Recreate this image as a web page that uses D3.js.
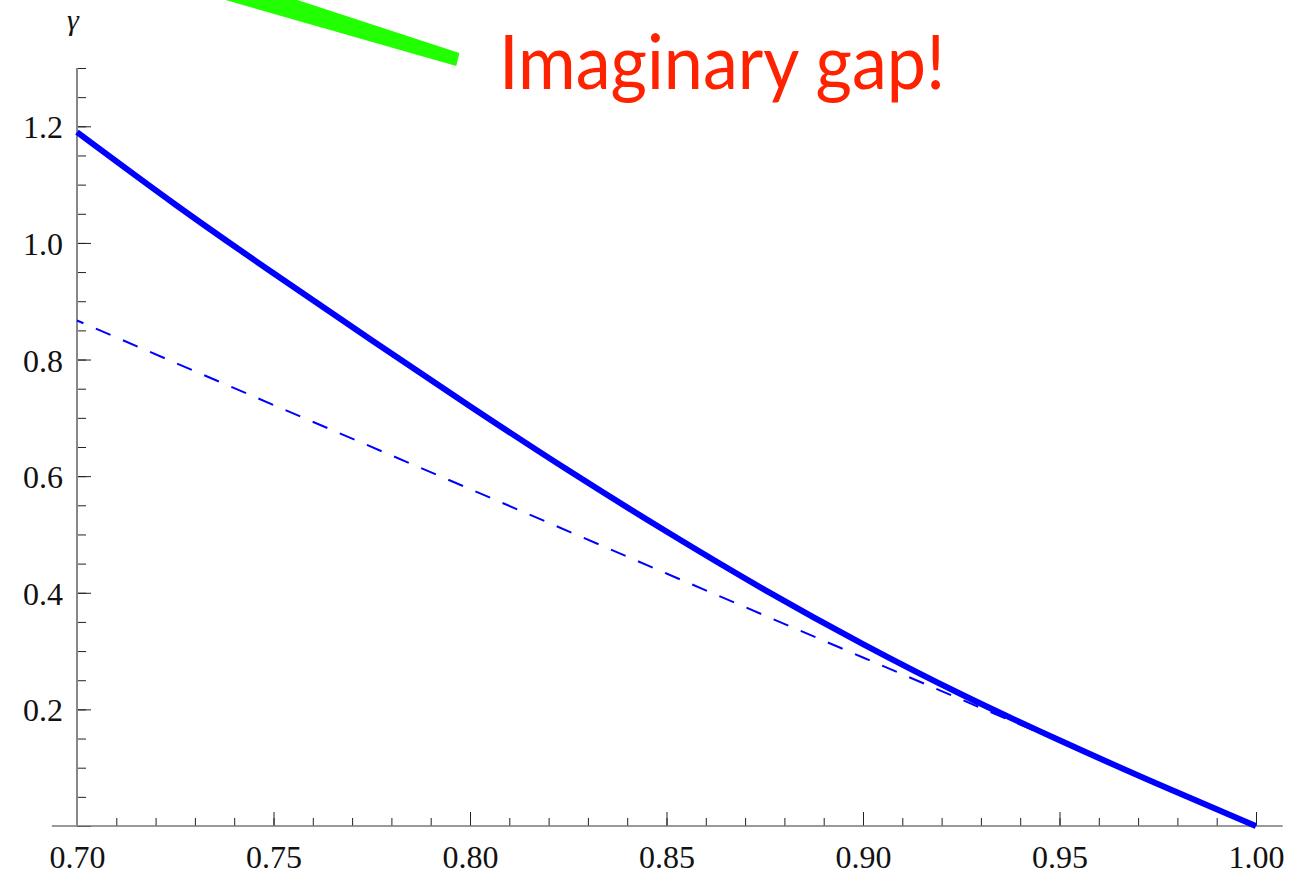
<!DOCTYPE html>
<html>
<head>
<meta charset="utf-8">
<script src="https://cdn.jsdelivr.net/npm/d3@7"></script>
<style>
  html, body { margin: 0; padding: 0; background: #fff; }
  svg { display: block; }
  .serif { font-family: "Liberation Serif", "Times New Roman", Times, serif; }
</style>
</head>
<body>
<svg id="chart"></svg>
<script>
// values
const xValues     = [0.700, 0.725, 0.750, 0.775, 0.800, 0.825, 0.850, 0.875, 0.900, 0.925, 0.950, 0.975, 1.000]
const gammaSolid  = [1.190, 1.066, 0.948, 0.833, 0.720, 0.610, 0.505, 0.405, 0.312, 0.226, 0.147, 0.072, 0.000]
const dashX       = [0.70, 0.75, 0.80, 0.85, 0.90, 0.95, 1.00]
const gammaDashed = [0.867, 0.722, 0.578, 0.433, 0.289, 0.145, 0.000]

const xMajorTicks = [0.70, 0.75, 0.80, 0.85, 0.90, 0.95, 1.00]
const yMajorTicks = [0, 0.2, 0.4, 0.6, 0.8, 1.0, 1.2]

// green pointer band (annotation), given in data units
const pointerX = [0.7377, 0.7560, 0.7973, 0.7965]
const pointerY = [1.4168, 1.4168, 1.3259, 1.3036]
const noteText = "Imaginary gap!"

const width = 1291
const height = 874

const svg = d3.select('#chart')
  .attr('width', width)
  .attr('height', height)

const x = d3.scaleLinear().domain([0.70, 1.00]).range([77, 1256])
const y = d3.scaleLinear().domain([0, 1.3]).range([826, 68])

// minor ticks first
svg.append('g')
  .attr('transform', `translate(0,${y(0)})`)
  .call(d3.axisBottom(x).tickValues(d3.range(0.70, 1.0001, 0.01)).tickSizeInner(-8).tickSizeOuter(0).tickFormat(''))
  .call(g => g.select('.domain').remove())

svg.append('g')
  .attr('transform', `translate(${x(0.70)},0)`)
  .call(d3.axisLeft(y).tickValues(d3.range(0, 1.3001, 0.05)).tickSizeInner(-9).tickSizeOuter(0).tickFormat(''))
  .call(g => g.select('.domain').remove())

// major ticks with labels
const xAxis = svg.append('g')
  .attr('transform', `translate(0,${y(0)})`)
  .call(d3.axisBottom(x).tickValues(xMajorTicks).tickSizeInner(-14).tickSizeOuter(0)
    .tickPadding(19).tickFormat(d3.format('.2f')))
  .call(g => g.select('.domain').remove())

const yAxis = svg.append('g')
  .attr('transform', `translate(${x(0.70)},0)`)
  .call(d3.axisLeft(y).tickValues(yMajorTicks).tickSizeInner(-14).tickSizeOuter(0)
    .tickPadding(14).tickFormat(d => d === 0 ? '' : d3.format('.1f')(d)))
  .call(g => g.select('.domain').remove())

svg.selectAll('g').attr('font-family', null).attr('font-size', null)
svg.selectAll('.tick line').attr('stroke', '#222').attr('stroke-width', 1)
svg.selectAll('.tick text')
  .attr('class', 'serif')
  .style('font-size', '32px')
  .attr('fill', '#111')
yAxis.selectAll('.tick text').attr('dy', '0.36em')

// axis lines (Mathematica style, grey)
svg.append('line')
  .attr('x1', x(0.6936)).attr('x2', x(1.0068))
  .attr('y1', y(0)).attr('y2', y(0))
  .attr('stroke', '#777').attr('stroke-width', 1.5)

svg.append('line')
  .attr('x1', x(0.70)).attr('x2', x(0.70))
  .attr('y1', y(0)).attr('y2', y(1.3))
  .attr('stroke', '#888').attr('stroke-width', 2)

// gamma label
svg.append('text')
  .attr('class', 'serif')
  .attr('x', 67)
  .attr('y', 30)
  .style('font-style', 'italic')
  .style('font-size', '30px')
  .attr('fill', '#111')
  .text('γ')

// dashed curve, under the solid one
const dashed = dashX.map((d, i) => [d, gammaDashed[i]])
svg.append('path')
  .datum(dashed)
  .attr('fill', 'none')
  .attr('stroke', '#0000ff')
  .attr('stroke-width', 2)
  .attr('stroke-dasharray', '16,13.5')
  .attr('stroke-dashoffset', 9)
  .attr('d', d3.line().x(d => x(d[0])).y(d => y(d[1])))

// solid curve
const solid = xValues.map((d, i) => [d, gammaSolid[i]])
svg.append('path')
  .datum(solid)
  .attr('fill', 'none')
  .attr('stroke', '#0000ff')
  .attr('stroke-width', 6)
  .attr('stroke-linejoin', 'round')
  .attr('d', d3.line().curve(d3.curveNatural).x(d => x(d[0])).y(d => y(d[1])))

// annotation
svg.append('polygon')
  .attr('points', pointerX.map((d, i) => [x(d), y(pointerY[i])].join(',')).join(' '))
  .attr('fill', '#22ff00')

svg.append('text')
  .attr('x', 499)
  .attr('y', 89)
  .style('font-family', 'Lato, "Open Sans", sans-serif')
  .style('font-size', '75px')
  .attr('fill', '#ff2200')
  .attr('textLength', 446)
  .attr('lengthAdjust', 'spacingAndGlyphs')
  .text(noteText)
</script>
</body>
</html>
